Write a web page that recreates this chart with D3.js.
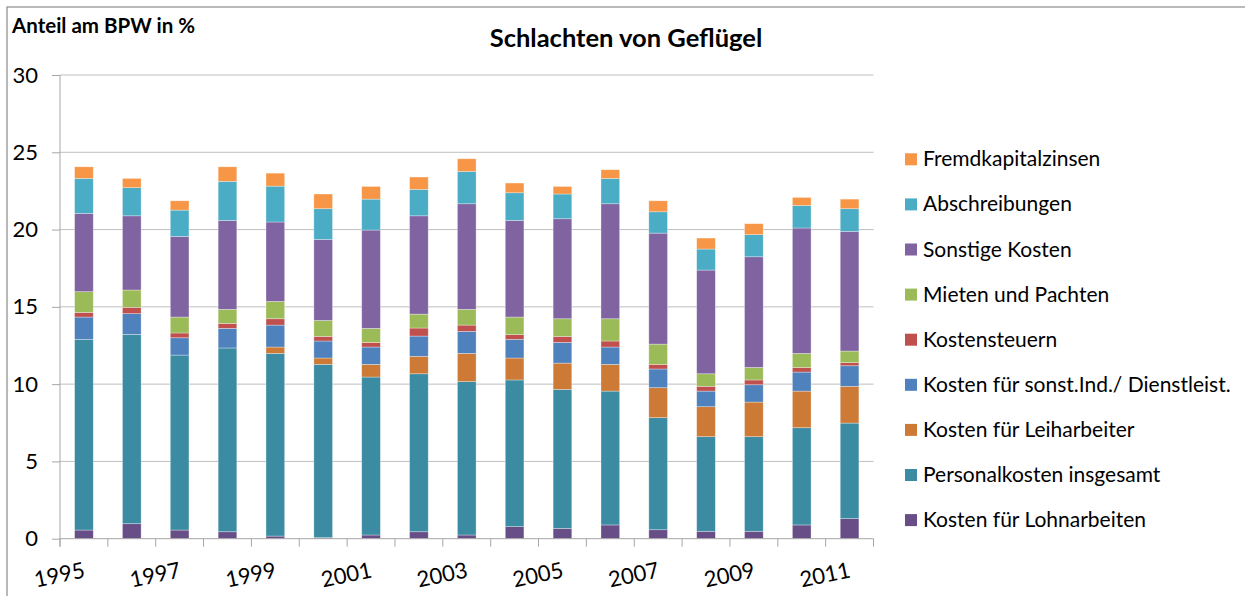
<!DOCTYPE html>
<meta charset="utf-8">
<style>
  body { margin: 0; background: #fff; }
  text { font-family: Lato, "Open Sans", sans-serif; fill: #000; }
</style>
<svg width="1245" height="596"></svg>
<script src="https://d3js.org/d3.v7.min.js"></script>
<script>
var svg = d3.select("svg");

// categories
var years = ["1995","1996","1997","1998","1999","2000","2001","2002","2003",
             "2004","2005","2006","2007","2008","2009","2010","2011"];

// series, bottom to top of the stack (share of BPW in %)
var lohnarbeiten  = [0.56,0.97,0.56,0.45,0.17,0.07,0.24,0.45,0.24,0.78,0.67,0.89,0.58,0.48,0.48,0.89,1.30];
var personal      = [12.34,12.25,11.32,11.89,11.82,11.21,10.22,10.22,9.92,9.49,8.99,8.66,7.25,6.12,6.12,6.29,6.18];
var leiharbeiter  = [0,0,0,0,0.41,0.41,0.82,1.13,1.83,1.42,1.70,1.73,1.94,1.94,2.24,2.37,2.38];
var dienstleist   = [1.44,1.34,1.12,1.27,1.42,1.10,1.12,1.31,1.42,1.21,1.34,1.12,1.21,1.01,1.12,1.23,1.33];
var kostensteuern = [0.30,0.41,0.31,0.32,0.41,0.30,0.30,0.52,0.41,0.30,0.39,0.39,0.30,0.31,0.31,0.30,0.20];
var mieten        = [1.34,1.12,1.03,0.91,1.12,1.03,0.91,0.90,1.02,1.14,1.14,1.44,1.31,0.81,0.81,0.91,0.75];
var sonstige      = [5.07,4.80,5.22,5.75,5.14,5.24,6.36,6.36,6.83,6.25,6.47,7.44,7.18,6.71,7.16,8.11,7.74];
var abschreibung  = [2.26,1.82,1.70,2.53,2.32,1.99,2.00,1.71,2.09,1.79,1.60,1.64,1.38,1.36,1.43,1.46,1.47];
var fremdkapital  = [0.75,0.60,0.60,0.94,0.84,0.95,0.82,0.80,0.82,0.63,0.49,0.56,0.71,0.71,0.71,0.52,0.62];

var seriesNames = ["Kosten für Lohnarbeiten","Personalkosten insgesamt","Kosten für Leiharbeiter",
                   "Kosten für sonst.Ind./ Dienstleist.","Kostensteuern","Mieten und Pachten",
                   "Sonstige Kosten","Abschreibungen","Fremdkapitalzinsen"];
var seriesValues = [lohnarbeiten, personal, leiharbeiter, dienstleist, kostensteuern,
                    mieten, sonstige, abschreibung, fremdkapital];
var colors = ["#674e87","#3b8ca3","#cc7a36","#4f81bd","#c0504d","#9bbb59","#8064a2","#4bacc6","#f79646"];

var yTicks = [0,5,10,15,20,25,30];

// build rows for d3.stack
var rows = years.map(function(y, i) {
  var r = {year: y};
  seriesNames.forEach(function(n, k) { r[n] = seriesValues[k][i]; });
  return r;
});
var stacked = d3.stack().keys(seriesNames)(rows);

// note: "top" is taken by window.top, so plot edges get their own names
var plotLeft = 60, plotRight = 873.5, plotTop = 75, plotBottom = 538.7;

var x = d3.scaleBand().domain(years).range([plotLeft, plotRight])
    .paddingInner(0.61).paddingOuter(0.305);
var y = d3.scaleLinear().domain([0, 30]).range([plotBottom, plotTop]);

// outer frame
svg.append("rect")
    .attr("x", 7).attr("y", 7).attr("width", 1260).attr("height", 620)
    .attr("fill", "none").attr("stroke", "#8c8c8c").attr("stroke-width", 1.2);

// gridlines
svg.append("g").selectAll("line")
  .data(yTicks.filter(function(d) { return d > 0; }))
  .enter().append("line")
    .attr("x1", plotLeft).attr("x2", plotRight)
    .attr("y1", function(d) { return y(d); }).attr("y2", function(d) { return y(d); })
    .attr("stroke", "#bfbfbf").attr("stroke-width", 1);

// y axis
var yAxis = svg.append("g")
    .attr("transform", "translate(" + plotLeft + ",0)")
    .call(d3.axisLeft(y).tickValues(yTicks).tickSize(8).tickPadding(14));
yAxis.select(".domain").remove();
yAxis.selectAll(".tick line").attr("stroke", "#a6a6a6");
yAxis.selectAll(".tick text").style("font-size", "22px").attr("fill", "#000");
svg.append("line")
    .attr("x1", plotLeft).attr("x2", plotLeft).attr("y1", plotTop).attr("y2", plotBottom + 8)
    .attr("stroke", "#a6a6a6");

// bars
svg.append("g").selectAll("g")
  .data(stacked)
  .enter().append("g")
    .attr("fill", function(d, i) { return colors[i]; })
  .selectAll("rect")
  .data(function(d) { return d; })
  .enter().append("rect")
    .attr("x", function(d) { return x(d.data.year); })
    .attr("width", x.bandwidth())
    .attr("y", function(d) { return y(d[1]); })
    .attr("height", function(d) { return y(d[0]) - y(d[1]); })
    .attr("stroke", "#ffffff").attr("stroke-opacity", 0.45).attr("stroke-width", 0.7);

// x axis line and ticks between categories
svg.append("line")
    .attr("x1", plotLeft).attr("x2", plotRight).attr("y1", plotBottom).attr("y2", plotBottom)
    .attr("stroke", "#a6a6a6");
svg.append("g").selectAll("line")
  .data(d3.range(years.length + 1))
  .enter().append("line")
    .attr("x1", function(i) { return plotLeft + i * x.step(); })
    .attr("x2", function(i) { return plotLeft + i * x.step(); })
    .attr("y1", plotBottom).attr("y2", plotBottom + 8)
    .attr("stroke", "#a6a6a6");

// x labels, every second year, slightly rotated
svg.append("g").selectAll("text")
  .data(years.filter(function(d, i) { return i % 2 === 0; }))
  .enter().append("text")
    .attr("transform", function(d) {
      return "translate(" + (x(d) + x.bandwidth() / 2 + 2) + ",577) rotate(-12)";
    })
    .attr("text-anchor", "end")
    .style("font-size", "22px")
    .text(function(d) { return d; });

// titles
svg.append("text")
    .attr("x", 626).attr("y", 47)
    .attr("text-anchor", "middle")
    .style("font-size", "25.5px").style("font-weight", "bold")
    .text("Schlachten von Geflügel");
svg.append("text")
    .attr("x", 12).attr("y", 33)
    .style("font-size", "20.5px").style("font-weight", "bold")
    .text("Anteil am BPW in %");

// legend, top entry is the top of the stack
var legendOrder = d3.range(seriesNames.length).reverse();
var legend = svg.append("g").selectAll("g")
  .data(legendOrder)
  .enter().append("g")
    .attr("transform", function(k, j) { return "translate(905," + (159.3 + j * 45.1) + ")"; });
legend.append("rect")
    .attr("x", 0).attr("y", -6).attr("width", 12).attr("height", 12)
    .attr("fill", function(k) { return colors[k]; });
legend.append("text")
    .attr("x", 18).attr("y", 7)
    .style("font-size", "21px")
    .text(function(k) { return seriesNames[k]; });
</script>
